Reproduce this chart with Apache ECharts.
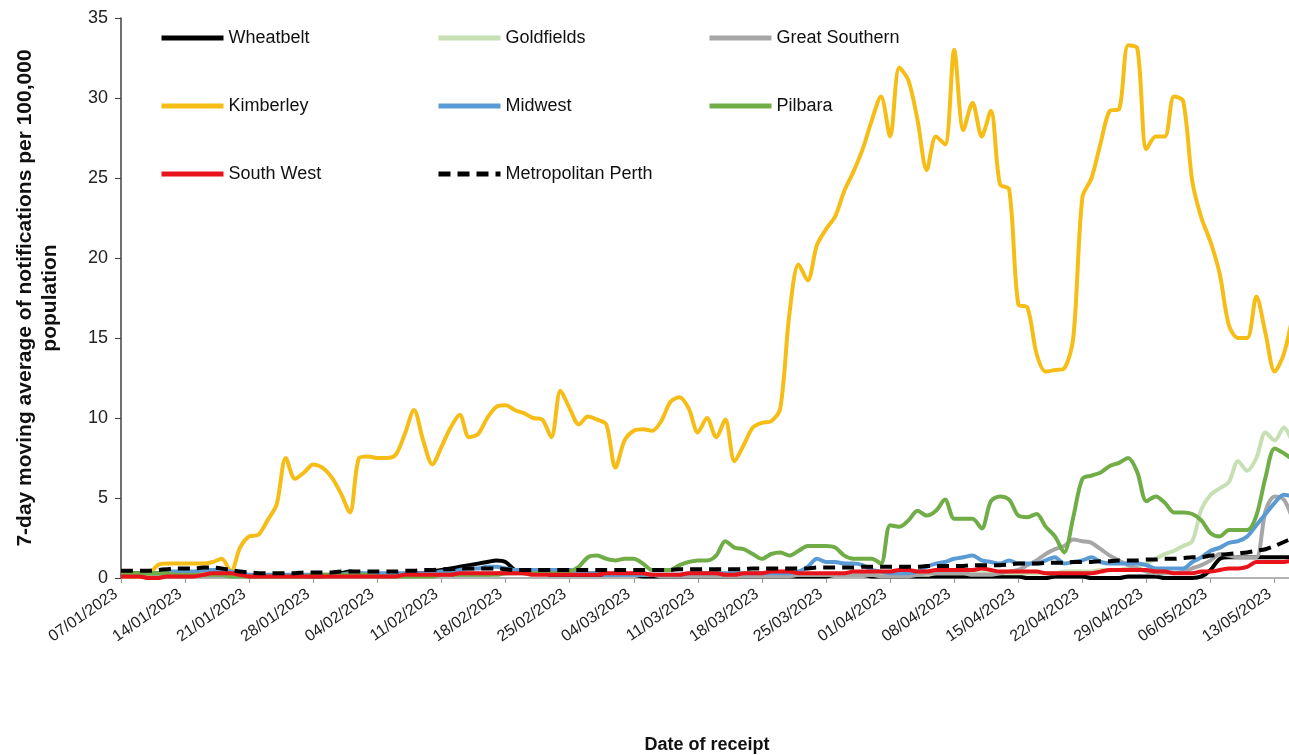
<!DOCTYPE html>
<html>
<head>
<meta charset="utf-8">
<script src="https://cdn.jsdelivr.net/npm/echarts@6/dist/echarts.min.js"></script>
<style>
html,body{margin:0;padding:0;background:#fff;}
#chart{width:1289px;height:755px;}
</style>
</head>
<body>
<div id="chart"></div>
<script>
const dates = [
'07/01/2023','08/01/2023','09/01/2023','10/01/2023','11/01/2023','12/01/2023','13/01/2023','14/01/2023','15/01/2023','16/01/2023',
'17/01/2023','18/01/2023','19/01/2023','20/01/2023','21/01/2023','22/01/2023','23/01/2023','24/01/2023','25/01/2023','26/01/2023',
'27/01/2023','28/01/2023','29/01/2023','30/01/2023','31/01/2023',
'01/02/2023','02/02/2023','03/02/2023','04/02/2023','05/02/2023','06/02/2023','07/02/2023','08/02/2023','09/02/2023','10/02/2023',
'11/02/2023','12/02/2023','13/02/2023','14/02/2023','15/02/2023','16/02/2023','17/02/2023','18/02/2023','19/02/2023','20/02/2023',
'21/02/2023','22/02/2023','23/02/2023','24/02/2023','25/02/2023','26/02/2023','27/02/2023','28/02/2023',
'01/03/2023','02/03/2023','03/03/2023','04/03/2023','05/03/2023','06/03/2023','07/03/2023','08/03/2023','09/03/2023','10/03/2023',
'11/03/2023','12/03/2023','13/03/2023','14/03/2023','15/03/2023','16/03/2023','17/03/2023','18/03/2023','19/03/2023','20/03/2023',
'21/03/2023','22/03/2023','23/03/2023','24/03/2023','25/03/2023','26/03/2023','27/03/2023','28/03/2023','29/03/2023','30/03/2023','31/03/2023',
'01/04/2023','02/04/2023','03/04/2023','04/04/2023','05/04/2023','06/04/2023','07/04/2023','08/04/2023','09/04/2023','10/04/2023',
'11/04/2023','12/04/2023','13/04/2023','14/04/2023','15/04/2023','16/04/2023','17/04/2023','18/04/2023','19/04/2023','20/04/2023',
'21/04/2023','22/04/2023','23/04/2023','24/04/2023','25/04/2023','26/04/2023','27/04/2023','28/04/2023','29/04/2023','30/04/2023',
'01/05/2023','02/05/2023','03/05/2023','04/05/2023','05/05/2023','06/05/2023','07/05/2023','08/05/2023','09/05/2023','10/05/2023',
'11/05/2023','12/05/2023','13/05/2023','14/05/2023','15/05/2023'
];

const wheatbelt = [
0.3,0.3,0.3,0.3,0.3,0.3,0.3,0.2,0.2,0.2,
0.2,0.2,0.2,0.2,0.1,0.1,0.1,0.1,0.1,0.1,
0.1,0.1,0.1,0.2,0.3,0.4,0.3,0.2,0.2,0.2,
0.2,0.2,0.3,0.3,0.4,0.5,0.6,0.7,0.8,0.9,
1.0,1.1,1.0,0.5,0.3,0.3,0.3,0.2,0.2,0.2,
0.2,0.2,0.2,0.2,0.2,0.2,0.2,0.1,0.1,0.1,
0.1,0.1,0.1,0.1,0.1,0.1,0.1,0.1,0.1,0.1,
0.1,0.1,0.1,0.1,0.1,0.1,0.1,0.1,0.2,0.2,
0.2,0.2,0.1,0.1,0.1,0.1,0.1,0.1,0.1,0.1,
0.1,0.1,0.1,0.1,0.1,0.1,0.1,0.1,0.1,0.0,
0.0,0.0,0.1,0.1,0.1,0.1,0.0,0.0,0.0,0.0,
0.1,0.1,0.1,0.1,0.0,0.0,0.0,0.0,0.1,0.5,
1.2,1.3,1.3,1.3,1.3,1.3,1.3,1.3,1.3
];

const goldfields = [
0.2,0.2,0.2,0.2,0.2,0.2,0.2,0.2,0.1,0.1,
0.1,0.1,0.1,0.1,0.1,0.1,0.1,0.1,0.1,0.1,
0.1,0.2,0.2,0.2,0.2,0.2,0.2,0.2,0.2,0.2,
0.2,0.2,0.2,0.2,0.2,0.2,0.3,0.3,0.3,0.3,
0.3,0.3,0.3,0.3,0.4,0.4,0.4,0.4,0.4,0.4,
0.4,0.3,0.3,0.3,0.3,0.2,0.2,0.2,0.2,0.2,
0.2,0.2,0.2,0.2,0.2,0.2,0.2,0.2,0.2,0.2,
0.2,0.2,0.2,0.2,0.2,0.2,0.2,0.2,0.2,0.2,
0.2,0.2,0.2,0.2,0.2,0.2,0.2,0.2,0.2,0.3,
0.3,0.3,0.3,0.3,0.3,0.3,0.3,0.3,0.3,0.3,
0.3,0.3,0.3,0.4,0.4,0.4,0.4,0.5,0.5,0.5,
0.6,0.7,0.9,1.2,1.5,1.7,2.0,2.3,4.3,5.2,
5.6,6.0,7.3,6.7,7.5,9.1,8.6,9.4,8.4
];

const greatSouthern = [
0.1,0.1,0.1,0.1,0.1,0.1,0.1,0.1,0.1,0.1,
0.1,0.1,0.1,0.1,0.1,0.1,0.1,0.1,0.1,0.1,
0.1,0.1,0.1,0.1,0.1,0.1,0.1,0.1,0.1,0.1,
0.1,0.1,0.1,0.1,0.1,0.2,0.2,0.2,0.2,0.2,
0.2,0.3,0.3,0.4,0.5,0.5,0.5,0.5,0.5,0.5,
0.4,0.3,0.3,0.2,0.2,0.2,0.2,0.2,0.2,0.1,
0.1,0.1,0.1,0.1,0.1,0.1,0.1,0.1,0.1,0.1,
0.1,0.1,0.1,0.1,0.2,0.2,0.2,0.2,0.2,0.2,
0.2,0.2,0.2,0.1,0.1,0.1,0.1,0.2,0.3,0.3,
0.3,0.3,0.3,0.2,0.2,0.2,0.3,0.4,0.5,0.8,
1.1,1.5,1.8,2.0,2.4,2.3,2.2,1.8,1.4,1.1,
0.8,0.6,0.4,0.3,0.3,0.3,0.4,0.6,0.8,1.1,
1.5,1.4,1.3,1.3,1.3,4.2,5.1,4.9,3.6
];

const kimberley = [
0.1,0.1,0.1,0.2,0.8,0.9,0.9,0.9,0.9,0.9,
1.0,1.2,0.4,1.9,2.6,2.7,3.6,4.6,7.5,6.2,
6.6,7.1,6.9,6.3,5.3,4.1,7.5,7.6,7.5,7.5,
7.7,9.0,10.5,8.6,7.1,8.2,9.4,10.2,8.8,9.0,
10.0,10.7,10.8,10.5,10.3,10.0,9.9,8.8,11.7,10.6,
9.6,10.1,9.9,9.6,6.9,8.6,9.2,9.3,9.2,9.8,
11.0,11.3,10.6,9.1,10.0,8.8,9.9,7.3,8.3,9.4,
9.7,9.8,10.6,16.5,19.6,18.6,20.8,21.8,22.6,24.2,
25.4,26.8,28.6,30.1,27.6,31.9,31.1,28.6,25.5,27.6,
27.1,33.0,28.0,29.7,27.6,29.2,24.6,24.3,17.1,16.9,
14.0,12.9,13.0,13.1,15.0,23.8,25.0,27.2,29.2,29.3,
33.3,33.1,26.8,27.6,27.6,30.1,29.8,24.8,22.5,21.0,
19.0,15.8,15.0,15.0,17.6,15.3,12.9,14.0,16.5
];

const midwest = [
0.2,0.2,0.2,0.3,0.3,0.4,0.4,0.4,0.4,0.5,
0.5,0.5,0.4,0.3,0.2,0.2,0.2,0.2,0.2,0.2,
0.2,0.2,0.2,0.2,0.2,0.3,0.3,0.3,0.3,0.3,
0.3,0.3,0.3,0.3,0.3,0.4,0.4,0.5,0.6,0.6,
0.7,0.7,0.6,0.5,0.5,0.5,0.5,0.5,0.5,0.5,
0.4,0.3,0.3,0.2,0.2,0.2,0.2,0.2,0.2,0.2,
0.2,0.2,0.3,0.3,0.3,0.3,0.3,0.3,0.3,0.3,
0.3,0.3,0.3,0.3,0.4,0.7,1.2,1.0,1.0,0.9,
0.9,0.8,0.5,0.4,0.3,0.3,0.3,0.4,0.7,0.9,
1.0,1.2,1.3,1.4,1.1,1.0,0.9,1.1,0.9,0.9,
0.9,1.1,1.3,0.9,1.0,1.1,1.3,1.0,0.9,0.9,
0.9,0.9,0.8,0.6,0.6,0.6,0.6,1.0,1.3,1.7,
1.9,2.2,2.3,2.6,3.3,4.0,4.7,5.2,5.1
];

const pilbara = [
0.3,0.3,0.3,0.3,0.3,0.3,0.2,0.2,0.2,0.2,
0.2,0.2,0.1,0.1,0.1,0.1,0.1,0.1,0.1,0.1,
0.1,0.2,0.2,0.2,0.2,0.2,0.2,0.2,0.1,0.1,
0.1,0.1,0.1,0.1,0.1,0.2,0.2,0.2,0.2,0.2,
0.2,0.2,0.3,0.3,0.3,0.3,0.3,0.3,0.3,0.4,
0.7,1.3,1.4,1.2,1.1,1.2,1.2,0.9,0.5,0.5,
0.5,0.8,1.0,1.1,1.1,1.4,2.3,1.9,1.8,1.5,
1.2,1.5,1.6,1.4,1.7,2.0,2.0,2.0,1.9,1.4,
1.2,1.2,1.2,0.9,3.3,3.2,3.6,4.2,3.9,4.2,
4.9,3.7,3.7,3.7,3.1,4.8,5.1,4.9,3.9,3.8,
4.0,3.2,2.6,1.6,3.8,6.2,6.4,6.6,7.0,7.2,
7.5,6.6,4.8,5.1,4.7,4.1,4.1,4.0,3.6,2.8,
2.6,3.0,3.0,3.0,3.9,6.3,8.1,7.8,7.4
];

const southWest = [
0.1,0.1,0.1,0.0,0.0,0.1,0.1,0.1,0.1,0.2,
0.3,0.3,0.3,0.2,0.1,0.1,0.1,0.1,0.1,0.1,
0.1,0.1,0.1,0.1,0.1,0.1,0.1,0.1,0.1,0.1,
0.1,0.2,0.2,0.2,0.2,0.2,0.2,0.3,0.3,0.3,
0.3,0.3,0.3,0.3,0.3,0.2,0.2,0.2,0.2,0.2,
0.2,0.2,0.2,0.3,0.3,0.3,0.3,0.3,0.2,0.2,
0.2,0.2,0.3,0.3,0.3,0.3,0.2,0.2,0.3,0.3,
0.3,0.4,0.4,0.4,0.3,0.3,0.3,0.3,0.3,0.3,
0.4,0.4,0.4,0.4,0.4,0.5,0.5,0.4,0.4,0.5,
0.5,0.5,0.5,0.5,0.6,0.5,0.4,0.4,0.4,0.4,
0.4,0.3,0.3,0.3,0.3,0.3,0.3,0.4,0.5,0.5,
0.5,0.5,0.5,0.4,0.4,0.3,0.3,0.3,0.4,0.4,
0.5,0.6,0.6,0.7,1.0,1.0,1.0,1.0,1.1
];

const metroPerth = [
0.45,0.45,0.45,0.45,0.5,0.55,0.6,0.6,0.6,0.65,
0.65,0.6,0.5,0.4,0.35,0.3,0.3,0.3,0.3,0.3,
0.35,0.35,0.35,0.35,0.4,0.4,0.4,0.4,0.4,0.4,
0.4,0.45,0.45,0.5,0.5,0.55,0.55,0.6,0.6,0.6,
0.6,0.6,0.55,0.5,0.5,0.5,0.5,0.5,0.5,0.5,
0.5,0.5,0.5,0.5,0.5,0.5,0.5,0.5,0.5,0.5,
0.5,0.55,0.55,0.55,0.55,0.55,0.55,0.55,0.55,0.6,
0.6,0.6,0.6,0.6,0.6,0.6,0.65,0.65,0.65,0.65,
0.65,0.7,0.7,0.7,0.7,0.7,0.7,0.7,0.75,0.75,
0.75,0.75,0.75,0.8,0.8,0.8,0.8,0.85,0.9,0.9,
0.9,0.95,0.95,0.95,1.0,1.0,1.0,1.05,1.05,1.1,
1.1,1.1,1.15,1.15,1.2,1.2,1.25,1.3,1.3,1.4,
1.45,1.5,1.55,1.6,1.7,1.8,2.0,2.25,2.5
];

const yTicks = { min: 0, max: 35, step: 5 };
const seriesNames = ['Wheatbelt','Goldfields','Great Southern','Kimberley','Midwest','Pilbara','South West','Metropolitan Perth'];
const seriesData = [wheatbelt, goldfields, greatSouthern, kimberley, midwest, pilbara, southWest, metroPerth];
const seriesColors = ['#000000','#c6e0b4','#a6a6a6','#f6bd16','#5b9bd5','#70ad47','#e8131b','#000000'];

const FONT = 'Liberation Sans, Arial, sans-serif';
const chart = echarts.init(document.getElementById('chart'), null, {renderer: 'canvas'});

const series = seriesNames.map((n, k) => ({
  name: n,
  type: 'line',
  data: seriesData[k],
  symbol: 'none',
  showSymbol: false,
  smooth: 0.3,
  lineStyle: {
    color: seriesColors[k],
    width: 4,
    type: n === 'Metropolitan Perth' ? [12, 7] : 'solid'
  },
  itemStyle: { color: seriesColors[k] },
  emphasis: { disabled: true }
}));

const legendBase = {
  orient: 'vertical',
  top: 28,
  padding: 0,
  itemGap: 48,
  itemWidth: 62,
  itemHeight: 20,
  itemStyle: { opacity: 0 },
  lineStyle: { width: 5 },
  textStyle: { fontSize: 18, fontFamily: FONT, color: '#111', lineHeight: 20 },
  selectedMode: false
};

chart.setOption({
  animation: false,
  backgroundColor: '#ffffff',
  grid: { left: 121, right: -4, top: 18, bottom: 177, containLabel: false, outerBoundsMode: 'none' },
  legend: [
    Object.assign({}, legendBase, { left: 159, data: ['Wheatbelt','Kimberley','South West'] }),
    Object.assign({}, legendBase, { left: 436, data: ['Goldfields','Midwest','Metropolitan Perth'] }),
    Object.assign({}, legendBase, { left: 707, data: ['Great Southern','Pilbara'] })
  ],
  xAxis: {
    type: 'category',
    data: dates,
    boundaryGap: false,
    name: 'Date of receipt',
    nameLocation: 'middle',
    nameGap: 158,
    nameTextStyle: { fontSize: 18, fontWeight: 'bold', fontFamily: FONT, color: '#111' },
    axisLine: { show: true, lineStyle: { color: '#9a9a9a', width: 1.5 } },
    axisTick: { show: true, interval: 6, length: 5, lineStyle: { color: '#9a9a9a' } },
    axisLabel: { interval: 6, rotate: 35, fontSize: 16, fontFamily: FONT, color: '#222', margin: 11, padding: [0, 6, 0, 0] },
    splitLine: { show: false }
  },
  yAxis: {
    type: 'value',
    min: yTicks.min,
    max: yTicks.max,
    interval: yTicks.step,
    name: '7-day moving average of notifications per 100,000\npopulation',
    nameLocation: 'middle',
    nameGap: 58,
    nameTextStyle: { fontSize: 21, fontWeight: 'bold', fontFamily: FONT, color: '#111', lineHeight: 25 },
    axisLine: { show: true, lineStyle: { color: '#404040', width: 1.5 } },
    axisTick: { show: true, length: 6, lineStyle: { color: '#404040' } },
    axisLabel: { fontSize: 18, fontFamily: FONT, color: '#222', margin: 13 },
    splitLine: { show: false }
  },
  series: series
});
</script>
</body>
</html>
